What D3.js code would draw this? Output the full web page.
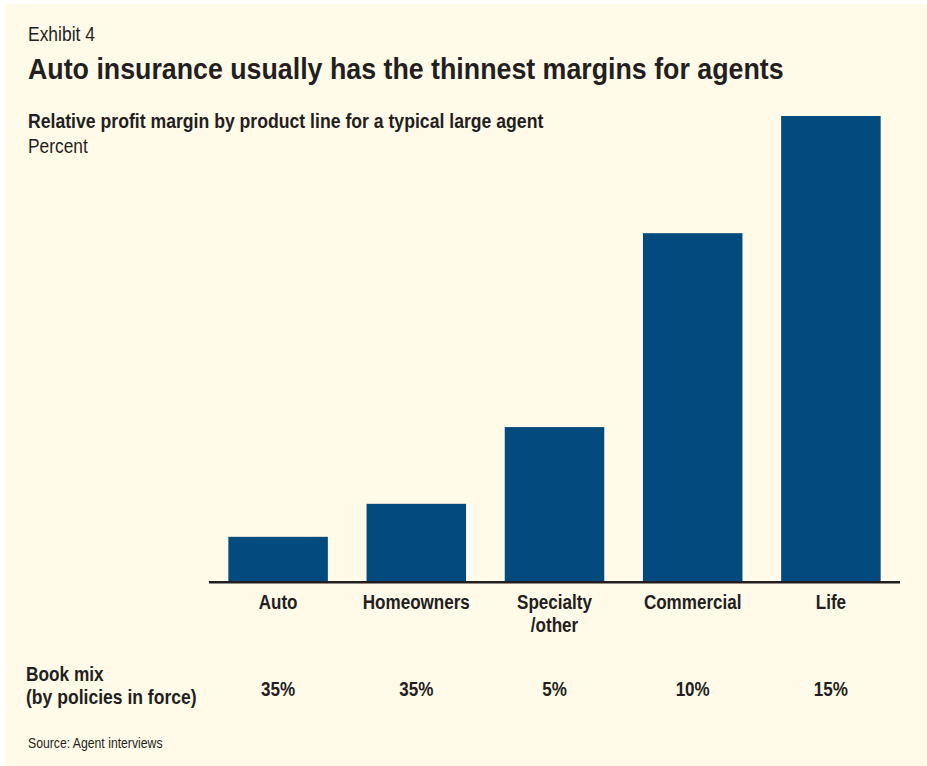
<!DOCTYPE html>
<html>
<head>
<meta charset="utf-8">
<script src="https://cdn.jsdelivr.net/npm/d3@7/dist/d3.min.js"></script>
<style>
  html, body { margin: 0; padding: 0; background: #ffffff; }
  svg { display: block; }
  text { font-family: "Liberation Sans", Arial, sans-serif; fill: #231f20; }
</style>
</head>
<body>
<svg id="chart" width="927" height="766"></svg>
<script>
// Product lines and their relative profit margin (index, Life = 100)
const categories = ["Auto", "Homeowners", "Specialty\n/other", "Commercial", "Life"];
const marginIndex = [9.5, 16.6, 33.1, 74.8, 100];
// Share of the agent's book by policies in force
const bookMix = ["35%", "35%", "5%", "10%", "15%"];

const W = 927, H = 766;
const NARROW = 0.875;   // horizontal squeeze giving a condensed face
const svg = d3.select("#chart");

// cream panel
svg.append("rect").attr("x", 5).attr("y", 4).attr("width", W - 5).attr("height", H - 4)
  .attr("fill", "#fffbe8");

// condensed text helper: text is drawn at the origin, then moved and squeezed
function label(parent, str, x, y, size, weight, k = NARROW, anchor = "start") {
  return parent.append("text")
    .attr("transform", `translate(${x},${y}) scale(${k},1)`)
    .attr("font-size", size).attr("font-weight", weight)
    .attr("text-anchor", anchor)
    .text(str);
}

const baseY = 581;
const x = d3.scaleBand().domain(categories).range([209, 900]).paddingInner(0.28).paddingOuter(0.14);
const y = d3.scaleLinear().domain([0, 100]).range([baseY, 116]);
const cx = d => x(d) + x.bandwidth() / 2;

// headings
label(svg, "Exhibit 4", 28, 41, 19.5, 400, 0.895);
label(svg, "Auto insurance usually has the thinnest margins for agents", 28, 79, 29.5, 700, 0.908);
label(svg, "Relative profit margin by product line for a typical large agent", 28, 128, 19.5, 700, 0.905);
label(svg, "Percent", 28, 153, 19.5, 400, 0.89);

// bars
svg.append("g").selectAll("rect").data(categories).join("rect")
  .attr("x", d => x(d))
  .attr("width", x.bandwidth())
  .attr("y", (d, i) => y(marginIndex[i]))
  .attr("height", (d, i) => baseY - y(marginIndex[i]))
  .attr("fill", "#034a7e");

// baseline axis
const axis = svg.append("g").attr("transform", `translate(0,${baseY})`)
  .call(d3.axisBottom(x).tickSize(0).tickFormat(""));
axis.select(".domain").attr("stroke", "#231f20").attr("stroke-width", 2.4)
  .attr("d", "M209,1.2H900");

// category labels
categories.forEach(c => {
  c.split("\n").forEach((line, k) => {
    label(svg, line, cx(c), 609 + k * 23, 19.5, 700, NARROW, "middle");
  });
});

// book mix row
label(svg, "Book mix", 26, 681, 19.5, 700, 0.885);
label(svg, "(by policies in force)", 26, 704, 19.5, 700, 0.9);
bookMix.forEach((v, i) => label(svg, v, cx(categories[i]), 696, 19.5, 700, NARROW, "middle"));

// source note
label(svg, "Source: Agent interviews", 28, 748, 14.3, 400, 0.855).attr("fill", "#3a3637");
</script>
</body>
</html>
